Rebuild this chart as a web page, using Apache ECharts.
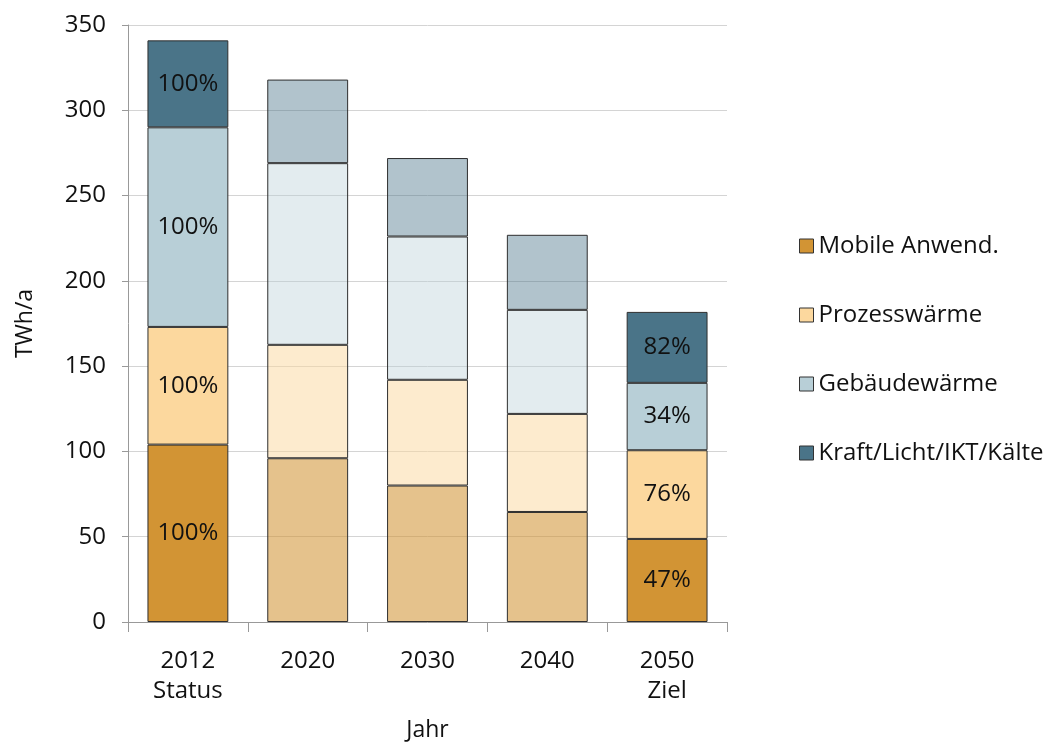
<!DOCTYPE html>
<html>
<head>
<meta charset="utf-8">
<script src="https://cdn.jsdelivr.net/npm/echarts@6/dist/echarts.min.js"></script>
<style>
  html, body { margin: 0; padding: 0; background: #fff; }
  #chart { width: 1054px; height: 743px; }
</style>
</head>
<body>
<div id="chart"></div>
<script>
// Jahre / Kategorien
var categories = ['2012\nStatus', '2020', '2030', '2040', '2050\nZiel'];
// TWh/a je Anwendung
var mobile   = [104, 96, 80, 64.5, 48.7];
var prozess  = [69, 66.5, 62, 57.5, 52];
var gebaeude = [117, 106.5, 84, 61, 39.5];
var kraft    = [51, 49, 46, 44, 41.6];
// Beschriftungen in den Balken
var mobileLbl   = ['100%', '', '', '', '47%'];
var prozessLbl  = ['100%', '', '', '', '76%'];
var gebaeudeLbl = ['100%', '', '', '', '34%'];
var kraftLbl    = ['100%', '', '', '', '82%'];
// Status und Ziel kräftig, Zwischenjahre blass
var solid = [true, false, false, false, true];
var yTicks = [0, 50, 100, 150, 200, 250, 300, 350];

var font = 'Open Sans';

function makeSeries(name, values, labels, rgb, fadeAlpha) {
  var data = values.map(function (v, i) {
    return {
      value: v,
      itemStyle: { color: solid[i] ? 'rgb(' + rgb + ')' : 'rgba(' + rgb + ',' + fadeAlpha + ')' },
      label: { show: labels[i] !== '', formatter: labels[i] }
    };
  });
  return {
    name: name,
    type: 'bar',
    stack: 'total',
    barWidth: '67.5%',
    itemStyle: { color: 'rgb(' + rgb + ')', borderColor: '#2e2e2e', borderWidth: 1 },
    label: { position: 'inside', color: '#111', fontSize: 24, fontFamily: font },
    data: data
  };
}

var myChart = echarts.init(document.getElementById('chart'));
var option = {
  animation: false,
  backgroundColor: '#fff',
  grid: { left: 128, right: 327, top: 25, bottom: 121, outerBoundsMode: 'none' },
  legend: {
    orient: 'vertical',
    left: 794,
    top: 229,
    itemWidth: 14,
    itemHeight: 14,
    itemGap: 45,
    itemTextGap: 7,
    icon: 'rect',
    textStyle: { fontSize: 24, fontFamily: font, color: '#111' },
    itemStyle: { borderColor: '#333', borderWidth: 1 },
    data: ['Mobile Anwend.', 'Prozesswärme', 'Gebäudewärme', 'Kraft/Licht/IKT/Kälte']
  },
  xAxis: {
    type: 'category',
    data: categories,
    name: 'Jahr',
    nameLocation: 'middle',
    nameGap: 97,
    nameTextStyle: { fontSize: 23, fontFamily: font, color: '#111' },
    axisLine: { lineStyle: { color: '#999', width: 1 } },
    axisTick: { show: true, length: 10, lineStyle: { color: '#999' } },
    axisLabel: { fontSize: 24, fontFamily: font, color: '#111', margin: 24, lineHeight: 30 }
  },
  yAxis: {
    type: 'value',
    min: yTicks[0],
    max: yTicks[yTicks.length - 1],
    interval: 50,
    name: 'TWh/a',
    nameLocation: 'middle',
    nameGap: 91,
    nameRotate: 90,
    nameTextStyle: { fontSize: 23, fontFamily: font, color: '#111' },
    axisLine: { show: true, lineStyle: { color: '#999', width: 1 } },
    axisTick: { show: true, length: 6, lineStyle: { color: '#999' } },
    axisLabel: { fontSize: 24, fontFamily: font, color: '#111', margin: 22 },
    splitLine: { show: true, lineStyle: { color: '#d4d4d4', width: 1 } }
  },
  series: [
    makeSeries('Mobile Anwend.', mobile, mobileLbl, '210,148,52', 0.57),
    makeSeries('Prozesswärme', prozess, prozessLbl, '252,216,158', 0.5),
    makeSeries('Gebäudewärme', gebaeude, gebaeudeLbl, '184,207,215', 0.4),
    makeSeries('Kraft/Licht/IKT/Kälte', kraft, kraftLbl, '74,116,136', 0.43)
  ]
};
myChart.setOption(option);
</script>
</body>
</html>
